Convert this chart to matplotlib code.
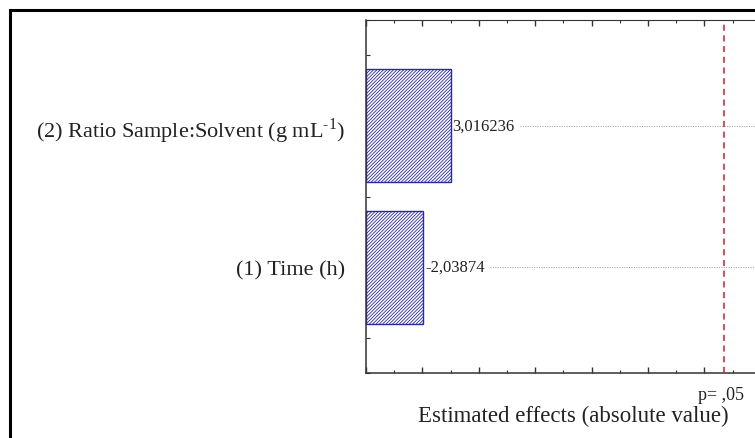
import matplotlib.pyplot as plt
from matplotlib.patches import Rectangle
from matplotlib.ticker import MultipleLocator

# Pareto chart of standardized effects
factors = ["(1) Time (h)", "(2) Ratio Sample:Solvent (g mL$^{\\text{-1}}$)"]
effects = [-2.03874, 3.016236]
effect_labels = ["-2,03874", "3,016236"]
p_crit = 12.706
p_label = "p= ,05"

plt.rcParams["font.family"] = ["Liberation Serif", "DejaVu Serif"]
plt.rcParams["mathtext.fontset"] = "custom"
plt.rcParams["mathtext.rm"] = "Liberation Serif"
plt.rcParams["hatch.linewidth"] = 0.6
plt.rcParams["hatch.color"] = "#2a2aa0"

W, H = 755, 439
fig = plt.figure(figsize=(W / 100, H / 100), dpi=100)

# outer frame (cropped on right and bottom)
fig.patches.append(Rectangle((10 / W, -0.05), 1.2, 1 - 11 / H + 0.05,
                             transform=fig.transFigure, fill=False,
                             edgecolor="black", linewidth=2.2))

x_max = 14.5
px_per_unit = 28.2
ax = fig.add_axes([366 / W, (H - 374) / H, x_max * px_per_unit / W, 353 / H])

ypos = [1, 2]
abs_eff = [abs(e) for e in effects]
ax.barh(ypos, abs_eff, height=0.8, color="white", edgecolor="#2a2aa0",
        hatch="//////////", linewidth=1.0, zorder=2)

ax.set_xlim(0, x_max)
ax.set_ylim(0.25, 2.75)

value_texts = []
for y, v, lab in zip(ypos, abs_eff, effect_labels):
    t = ax.text(v + 0.05, y, lab, va="center", ha="left", fontsize=12,
                color="#222222", zorder=3)
    value_texts.append(t)

# dotted guide lines start just after each value label
fig.canvas.draw()
inv = ax.transData.inverted()
for y, t in zip(ypos, value_texts):
    x_end = inv.transform((t.get_window_extent().x1 + 5, 0))[0]
    ax.plot([x_end, x_max], [y, y], linestyle=(0, (1, 1.5)), color="#9a9a9a",
            linewidth=0.7, zorder=1)

ax.axvline(p_crit, color="#cc1f2a", linestyle=(0, (4, 3)), linewidth=1.1, zorder=3)
ax.text(p_crit - 0.1, -0.06, p_label, transform=ax.get_xaxis_transform(),
        ha="center", va="center", fontsize=13, color="#222222")

ax.xaxis.set_major_locator(MultipleLocator(2))
ax.xaxis.set_minor_locator(MultipleLocator(1))
ax.set_xticklabels([])
ax.set_yticks(ypos)
ax.set_yticklabels(factors, fontsize=16, color="#222222")
ax.yaxis.set_minor_locator(MultipleLocator(0.25))
ax.tick_params(axis="x", which="major", direction="in", length=4, top=True,
               width=1.0, color="#333333")
ax.tick_params(axis="x", which="minor", direction="in", length=2.5, top=True,
               width=0.8, color="#333333")
ax.tick_params(axis="y", which="both", direction="in", length=3, pad=15,
               width=0.8, color="#333333")

for side in ["left", "bottom", "top"]:
    ax.spines[side].set_color("#333333")
    ax.spines[side].set_linewidth(1.1)
ax.spines["top"].set_linewidth(0.8)

fig.text(573 / W, 1 - 416 / H, "Estimated effects (absolute value)",
         ha="center", va="center", fontsize=16.5, color="#222222")

fig.savefig("out.png", dpi=100)
